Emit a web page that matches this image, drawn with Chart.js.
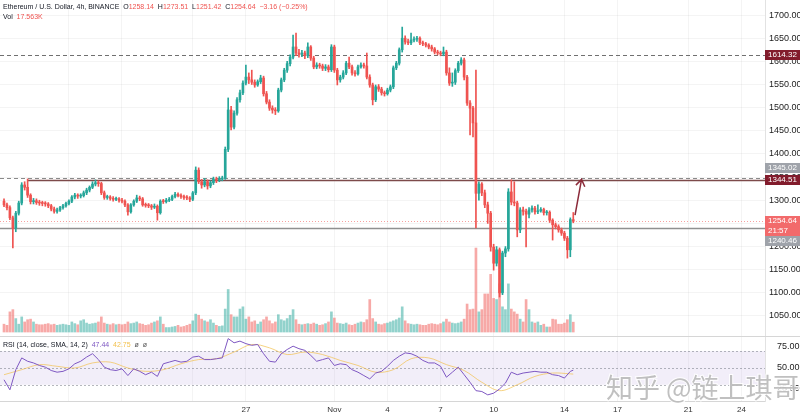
<!DOCTYPE html>
<html>
<head>
<meta charset="utf-8">
<script src="https://cdn.jsdelivr.net/npm/chart.js@4.4.0/dist/chart.umd.min.js"></script>
<style>
  body { margin: 0; background: #fff; }
  canvas { display: block; }
</style>
</head>
<body>
<canvas id="priceChart" width="800" height="336"></canvas>
<canvas id="rsiChart" width="800" height="81"></canvas>
<script>
// ETH/USD 4h candles, first candle 13 Oct 08:00
const startTime = Date.UTC(2022, 9, 13, 8);

const opens = [
  1298,1290,1284,1262,1240,1272,1294,1333,1328,1311,
  1297,1299,1295,1294,1293,1292,1288,1281,1276,1279,
  1284,1288,1293,1298,1307,1311,1309,1310,1316,1322,
  1328,1335,1338,1336,1316,1306,1307,1304,1302,1303,
  1300,1298,1290,1275,1290,1298,1305,1303,1290,1289,
  1288,1285,1287,1273,1298,1297,1300,1302,1308,1313,
  1310,1308,1306,1305,1302,1316,1365,1340,1333,1340,
  1331,1338,1346,1343,1346,1348,1410,1495,1458,1488,
  1517,1532,1553,1566,1560,1555,1549,1556,1564,1530,
  1512,1499,1495,1493,1538,1560,1581,1595,1609,1631,
  1618,1615,1618,1612,1631,1607,1588,1592,1590,1585,
  1588,1582,1631,1581,1560,1566,1575,1596,1588,1575,
  1573,1588,1592,1590,1566,1549,1517,1545,1540,1532,
  1530,1538,1545,1586,1596,1625,1650,1642,1640,1646,
  1648,1650,1640,1638,1635,1631,1627,1620,1618,1616,
  1620,1575,1553,1555,1580,1596,1603,1566,1510,1499,
  1467,1315,1335,1316,1290,1272,1199,1164,1193,1100,
  1186,1195,1318,1296,1294,1236,1279,1276,1270,1279,
  1283,1275,1277,1280,1273,1274,1257,1247,1243,1236,
  1229,1218,1193,1258.14
];
const highs = [
  1303,1294,1288,1266,1276,1298,1338,1340,1346,1314,
  1304,1303,1300,1298,1297,1295,1291,1285,1283,1287,
  1291,1296,1301,1310,1315,1314,1314,1320,1326,1331,
  1340,1344,1342,1339,1320,1311,1310,1308,1307,1306,
  1304,1301,1293,1293,1301,1311,1309,1306,1294,1293,
  1291,1292,1290,1301,1302,1304,1306,1311,1317,1316,
  1314,1311,1310,1308,1319,1372,1370,1345,1347,1344,
  1342,1350,1350,1351,1352,1415,1521,1503,1493,1522,
  1538,1558,1592,1575,1581,1560,1560,1570,1568,1535,
  1517,1504,1500,1542,1564,1585,1600,1614,1657,1661,
  1626,1624,1622,1640,1634,1611,1597,1596,1594,1593,
  1592,1636,1635,1585,1570,1580,1600,1609,1592,1580,
  1592,1597,1596,1618,1571,1553,1549,1550,1544,1536,
  1542,1549,1590,1600,1629,1674,1655,1648,1661,1653,
  1654,1653,1644,1641,1638,1635,1630,1624,1622,1631,
  1624,1586,1575,1584,1600,1608,1607,1570,1515,1503,
  1581,1340,1338,1322,1296,1276,1205,1200,1197,1190,
  1200,1325,1344,1340,1298,1284,1285,1281,1284,1288,
  1287,1290,1284,1283,1278,1277,1260,1251,1247,1240,
  1233,1222,1262,1273.51
];
const lows = [
  1286,1279,1258,1197,1232,1268,1290,1322,1306,1292,
  1292,1291,1289,1288,1287,1284,1277,1272,1272,1276,
  1281,1285,1290,1295,1303,1304,1305,1307,1312,1318,
  1325,1331,1330,1312,1302,1302,1300,1298,1299,1296,
  1294,1286,1268,1272,1287,1295,1299,1287,1285,1284,
  1280,1282,1257,1270,1293,1294,1297,1299,1305,1307,
  1304,1302,1301,1297,1299,1312,1336,1326,1329,1324,
  1327,1334,1338,1340,1342,1345,1405,1452,1454,1484,
  1512,1528,1549,1552,1550,1544,1546,1552,1525,1508,
  1494,1488,1485,1490,1534,1556,1576,1590,1605,1612,
  1609,1610,1606,1608,1602,1584,1584,1585,1580,1580,
  1577,1578,1576,1549,1555,1562,1571,1584,1570,1568,
  1570,1585,1585,1562,1544,1506,1513,1535,1527,1525,
  1527,1534,1541,1582,1592,1620,1637,1636,1636,1642,
  1643,1636,1634,1631,1627,1622,1616,1614,1612,1612,
  1570,1548,1546,1550,1576,1592,1560,1505,1441,1437,
  1240,1300,1310,1284,1250,1190,1149,1158,1091,1096,
  1178,1190,1290,1288,1221,1230,1268,1199,1262,1274,
  1270,1271,1274,1268,1268,1252,1214,1238,1231,1224,
  1213,1175,1178,1251.42
];
const closes = [
  1290,1284,1262,1240,1272,1294,1333,1328,1311,1297,
  1299,1295,1294,1293,1292,1288,1281,1276,1279,1284,
  1288,1293,1298,1307,1311,1309,1310,1316,1322,1328,
  1335,1338,1336,1316,1306,1307,1304,1302,1303,1300,
  1298,1290,1275,1290,1298,1305,1303,1290,1289,1288,
  1285,1287,1273,1298,1297,1300,1302,1308,1313,1310,
  1308,1306,1305,1302,1316,1365,1340,1333,1340,1331,
  1338,1346,1343,1346,1348,1410,1495,1458,1488,1517,
  1532,1553,1566,1560,1555,1549,1556,1564,1530,1512,
  1499,1495,1493,1538,1560,1581,1595,1609,1631,1618,
  1615,1618,1612,1631,1607,1588,1592,1590,1585,1588,
  1582,1631,1581,1560,1566,1575,1596,1588,1575,1573,
  1588,1592,1590,1566,1549,1517,1545,1540,1532,1530,
  1538,1545,1586,1596,1625,1650,1642,1640,1646,1648,
  1650,1640,1638,1635,1631,1627,1620,1618,1616,1620,
  1575,1553,1555,1580,1596,1603,1566,1510,1499,1467,
  1315,1335,1316,1290,1272,1199,1164,1193,1100,1186,
  1195,1318,1296,1294,1236,1279,1276,1270,1279,1283,
  1275,1277,1280,1273,1274,1257,1247,1243,1236,1229,
  1218,1193,1258.14,1254.64
];
// volume in thousands
const volumes = [
  14,12,36,40,24,14,27,18,22,23,
  18,14,13,13,14,15,13,14,12,13,
  14,13,12,18,15,13,20,22,16,14,
  15,16,18,27,16,14,13,15,13,14,
  13,14,18,15,16,18,15,14,12,13,
  16,18,20,27,14,8,8,9,10,12,
  9,10,12,14,20,32,30,23,20,18,
  22,16,12,10,11,41,76,31,27,27,
  41,45,23,27,18,20,14,18,22,27,
  20,15,18,31,22,20,24,30,40,22,
  14,13,14,15,14,16,14,12,13,15,
  18,36,25,16,15,14,16,13,12,14,
  16,18,17,22,58,24,18,14,13,15,
  16,18,20,22,25,45,20,15,14,13,
  14,13,12,12,14,15,14,13,15,18,
  23,18,16,15,16,18,23,50,40,41,
  150,36,40,68,68,103,60,58,86,45,
  40,86,41,36,32,23,18,58,40,18,
  16,18,12,14,9,9,23,22,14,14,
  16,22,31,17.563
];
// RSI(14) read every 2nd candle, last value on the final candle
const rsiValues = [
  36,24,48,62,58,56,53,51,47,45,
  46,49,55,58,63,67,60,51,48,47,
  49,41,49,46,42,45,40,55,57,59,
  57,58,63,64,60,60,61,62,85,80,
  82,79,77,78,67,58,57,67,72,76,
  73,71,65,58,60,62,53,55,54,48,
  45,41,37,44,46,52,59,64,68,67,
  64,59,56,56,52,39,45,51,42,33,
  23,22,18,20,25,32,45,42,44,45,
  46,45,45,42,41,38,46,47.44
];
// RSI SMA(14) read every 6th candle
const rsiMaValues = [
  42,48,54,52,50,56,57,50,46,48,
  55,60,61,69,78,74,66,69,66,59,
  53,45,48,61,62,54,47,33,23,30,
  40,44,43,42.75
];

const priceTicks = [1050,1100,1150,1200,1250,1300,1350,1400,1450,1500,1550,1600,1650,1700];
const rsiTicks = [25, 50, 75];
const dateTicks = ['2022-10-17','2022-10-20','2022-10-24','2022-10-27','2022-11-01','2022-11-04',
                   '2022-11-07','2022-11-10','2022-11-14','2022-11-17','2022-11-21','2022-11-24'];
const dateLabels = ['', '', '', '27', 'Nov', '4', '7', '10', '14', '17', '21', '24'];

const lastPrice = 1254.64;
const lastChange = '\u22123.16 (\u22120.25%)';
const levelTop = 1614.32;
const levelMidDash = 1345.02;
const levelMid = 1344.51;
const levelLow = 1240.46;
const levelMidFrom = 8;          // candle where the 1344.51 line starts
const arrowFrom = { x: 193.6, y: 1268 };
const arrowTo = { x: 195.8, y: 1345 };

const FONT = '"Liberation Sans", Arial, sans-serif';
Chart.defaults.font.family = FONT;

const UP = '#26a69a', DOWN = '#ef5350';
const candleColors = closes.map((c, i) => c >= opens[i] ? UP : DOWN);
const volColors = closes.map((c, i) => c >= opens[i] ? 'rgba(38,166,154,0.5)' : 'rgba(239,83,80,0.5)');

const candleMs = 4 * 3600 * 1000;
const tickIndex = dateTicks.map(d => (Date.parse(d + 'T00:00:00Z') - startTime) / candleMs);
const xMin = -1.36, xMax = 258;

function setDateTicks(scale) {
  scale.ticks = tickIndex.map(v => ({ value: v }));
}

// stop the scales from reserving room for half a tick label at the ends
function noScalePadding(scale) {
  scale.paddingTop = 0;
  scale.paddingBottom = 0;
  scale.paddingLeft = 0;
  scale.paddingRight = 0;
}

function hLine(ctx, x1, x2, y, color, dash, width) {
  ctx.beginPath();
  ctx.setLineDash(dash);
  ctx.strokeStyle = color;
  ctx.lineWidth = width;
  const yy = Math.round(y) + 0.5;
  ctx.moveTo(x1, yy);
  ctx.lineTo(x2, yy);
  ctx.stroke();
  ctx.setLineDash([]);
}

function drawTag(ctx, left, right, yc, lines, bg, fg) {
  const h = 10 * lines.length;
  ctx.fillStyle = bg;
  ctx.fillRect(left, Math.round(yc) - 5, right - left, h);
  ctx.fillStyle = fg;
  ctx.font = '8px ' + FONT;
  ctx.textBaseline = 'middle';
  ctx.textAlign = 'left';
  lines.forEach((t, k) => ctx.fillText(t, left + 3, Math.round(yc) + k * 10));
}

function drawRuns(ctx, x, y, runs, size) {
  ctx.font = size + 'px ' + FONT;
  ctx.textBaseline = 'middle';
  ctx.textAlign = 'left';
  runs.forEach(([text, color]) => {
    ctx.fillStyle = color;
    ctx.fillText(text, x, y);
    x += ctx.measureText(text).width;
  });
}

const priceOverlay = {
  id: 'priceOverlay',
  beforeDatasetsDraw(chart) {
    const { ctx, chartArea, scales: { x, y } } = chart;
    ctx.save();
    hLine(ctx, chartArea.left, chartArea.right, y.getPixelForValue(levelTop), '#707070', [4, 3], 1);
    hLine(ctx, chartArea.left, chartArea.right, y.getPixelForValue(levelMidDash) - 1, '#8a8a8a', [4, 3], 1);
    hLine(ctx, x.getPixelForValue(levelMidFrom), chartArea.right, y.getPixelForValue(levelMid), '#7d4a4a', [], 1.5);
    hLine(ctx, chartArea.left, chartArea.right, y.getPixelForValue(levelLow), '#909090', [], 1.5);
    hLine(ctx, chartArea.left, chartArea.right, y.getPixelForValue(lastPrice), 'rgba(239,83,80,0.55)', [1, 2], 1);
    ctx.restore();
  },
  afterDraw(chart) {
    const { ctx, chartArea, scales: { x, y } } = chart;
    ctx.save();
    // arrow
    const x1 = x.getPixelForValue(arrowFrom.x), y1 = y.getPixelForValue(arrowFrom.y);
    const x2 = x.getPixelForValue(arrowTo.x), y2 = y.getPixelForValue(arrowTo.y);
    const a = Math.atan2(y2 - y1, x2 - x1);
    ctx.strokeStyle = '#8c2b3a';
    ctx.lineWidth = 1.5;
    ctx.beginPath();
    ctx.moveTo(x1, y1);
    ctx.lineTo(x2, y2);
    ctx.moveTo(x2 - 8 * Math.cos(a - 0.6), y2 - 8 * Math.sin(a - 0.6));
    ctx.lineTo(x2, y2);
    ctx.lineTo(x2 - 8 * Math.cos(a + 0.6), y2 - 8 * Math.sin(a + 0.6));
    ctx.stroke();

    // price tags on the scale
    const L = chartArea.right, R = chart.width;
    const yRed = y.getPixelForValue(lastPrice);
    drawTag(ctx, L, R, y.getPixelForValue(levelTop), [levelTop.toFixed(2)], '#821c2c', '#fff');
    drawTag(ctx, L, R, y.getPixelForValue(levelMidDash) - 11, [levelMidDash.toFixed(2)], '#9fa3aa', '#fff');
    drawTag(ctx, L, R, y.getPixelForValue(levelMid), [levelMid.toFixed(2)], '#821c2c', '#fff');
    drawTag(ctx, L, R, yRed, [lastPrice.toFixed(2), '21:57'], '#f26a6b', '#fff');
    drawTag(ctx, L, R, yRed + 20, [levelLow.toFixed(2)], '#9fa3aa', '#fff');

    // legend
    const n = closes.length - 1;
    drawRuns(ctx, 3, 7, [
      ['Ethereum / U.S. Dollar, 4h, BINANCE  ', '#131722'],
      ['O', '#131722'], [opens[n].toFixed(2) + '  ', DOWN],
      ['H', '#131722'], [highs[n].toFixed(2) + '  ', DOWN],
      ['L', '#131722'], [lows[n].toFixed(2) + '  ', DOWN],
      ['C', '#131722'], [closes[n].toFixed(2) + '  ', DOWN],
      [lastChange, DOWN]
    ], 7);
    drawRuns(ctx, 3, 17, [['Vol  ', '#131722'], [volumes[n].toFixed(3) + 'K', DOWN]], 7);
    ctx.restore();
  }
};

const rsiOverlay = {
  id: 'rsiOverlay',
  beforeDatasetsDraw(chart) {
    const { ctx, chartArea, scales: { y } } = chart;
    ctx.save();
    const y70 = y.getPixelForValue(70), y30 = y.getPixelForValue(30);
    ctx.fillStyle = 'rgba(126,87,194,0.1)';
    ctx.fillRect(chartArea.left, y70, chartArea.right - chartArea.left, y30 - y70);
    [70, 50, 30].forEach(v =>
      hLine(ctx, chartArea.left, chartArea.right, y.getPixelForValue(v), 'rgba(120,123,134,0.55)', [2, 2], 1));
    hLine(ctx, 0, chart.width, 0, '#d6d6d6', [], 1);
    ctx.restore();
  },
  afterDraw(chart) {
    const { ctx } = chart;
    ctx.save();
    drawRuns(ctx, 3, 9, [
      ['RSI (14, close, SMA, 14, 2)  ', '#131722'],
      [rsiValues[rsiValues.length - 1].toFixed(2) + '  ', '#7e57c2'],
      [rsiMaValues[rsiMaValues.length - 1].toFixed(2) + '  ', '#f2c14e'],
      ['\u00f8  \u00f8', '#555']
    ], 7);
    // watermark
    ctx.font = '27px "Noto Sans CJK SC", sans-serif';
    ctx.textBaseline = 'middle';
    ctx.textAlign = 'left';
    ctx.lineWidth = 2;
    ctx.strokeStyle = 'rgba(255,255,255,0.9)';
    ctx.strokeText('知乎 @链上琪哥', 606, 52);
    ctx.fillStyle = 'rgba(150,150,150,0.6)';
    ctx.fillText('知乎 @链上琪哥', 606, 52);
    ctx.restore();
  }
};

const gridColor = 'rgba(0,0,0,0.045)';

new Chart(document.getElementById('priceChart'), {
  type: 'bar',
  data: {
    datasets: [
      {
        label: 'wick',
        data: closes.map((c, i) => ({ x: i, y: [lows[i], highs[i]] })),
        backgroundColor: candleColors,
        barThickness: 1,
        grouped: false,
        order: 2,
        yAxisID: 'y'
      },
      {
        label: 'body',
        data: closes.map((c, i) => ({ x: i, y: [opens[i], c] })),
        backgroundColor: candleColors,
        barThickness: 2,
        minBarLength: 1,
        grouped: false,
        order: 1,
        yAxisID: 'y'
      },
      {
        label: 'volume',
        data: volumes.map((v, i) => ({ x: i, y: v })),
        backgroundColor: volColors,
        barThickness: 2,
        grouped: false,
        order: 3,
        yAxisID: 'yVol'
      }
    ]
  },
  options: {
    responsive: false,
    animation: false,
    devicePixelRatio: 1,
    layout: { padding: 0 },
    plugins: { legend: { display: false }, tooltip: { enabled: false } },
    scales: {
      x: {
        type: 'linear',
        min: xMin,
        max: xMax,
        offset: false,
        afterBuildTicks: setDateTicks,
        afterFit: s => { s.height = 0; noScalePadding(s); },
        ticks: { display: false },
        grid: { color: gridColor, drawTicks: false, offset: false },
        border: { display: false }
      },
      y: {
        position: 'right',
        min: 1006.8,
        max: 1732.5,
        afterBuildTicks: s => { s.ticks = priceTicks.map(v => ({ value: v })); },
        afterFit: s => { s.width = 35; noScalePadding(s); },
        ticks: { font: { size: 9 }, color: '#222', padding: 4, callback: v => v.toFixed(2) },
        grid: { color: gridColor, drawTicks: false },
        border: { display: true, color: '#e2e2e2' }
      },
      yVol: { display: false, min: -7.1, max: 593 }
    }
  },
  plugins: [priceOverlay]
});

new Chart(document.getElementById('rsiChart'), {
  type: 'line',
  data: {
    datasets: [
      {
        label: 'RSI',
        data: rsiValues.map((v, i) => ({ x: Math.min(i * 2, closes.length - 1), y: v })),
        borderColor: '#7e57c2',
        borderWidth: 1,
        pointRadius: 0,
        tension: 0
      },
      {
        label: 'RSI MA',
        data: rsiMaValues.map((v, i) => ({ x: Math.min(i * 6, closes.length - 1), y: v })),
        borderColor: 'rgba(242,193,78,0.7)',
        borderWidth: 1,
        pointRadius: 0,
        tension: 0.35
      }
    ]
  },
  options: {
    responsive: false,
    animation: false,
    devicePixelRatio: 1,
    layout: { padding: { top: 1, left: 0, right: 0, bottom: 0 } },
    plugins: { legend: { display: false }, tooltip: { enabled: false } },
    scales: {
      x: {
        type: 'linear',
        min: xMin,
        max: xMax,
        afterBuildTicks: setDateTicks,
        afterFit: s => { s.height = 16; noScalePadding(s); },
        ticks: {
          autoSkip: false, maxRotation: 0, padding: 4,
          font: { size: 8 }, color: '#333',
          callback: (v, i) => dateLabels[i]
        },
        grid: { color: gridColor, drawTicks: false },
        border: { display: true, color: '#d6d6d6' }
      },
      y: {
        position: 'right',
        min: 10.7,
        max: 86.9,
        afterBuildTicks: s => { s.ticks = rsiTicks.map(v => ({ value: v })); },
        afterFit: s => { s.width = 35; noScalePadding(s); },
        ticks: { font: { size: 9 }, color: '#222', padding: 4, callback: v => v.toFixed(2) },
        grid: { display: false },
        border: { display: true, color: '#e2e2e2' }
      }
    }
  },
  plugins: [rsiOverlay]
});
</script>
</body>
</html>
